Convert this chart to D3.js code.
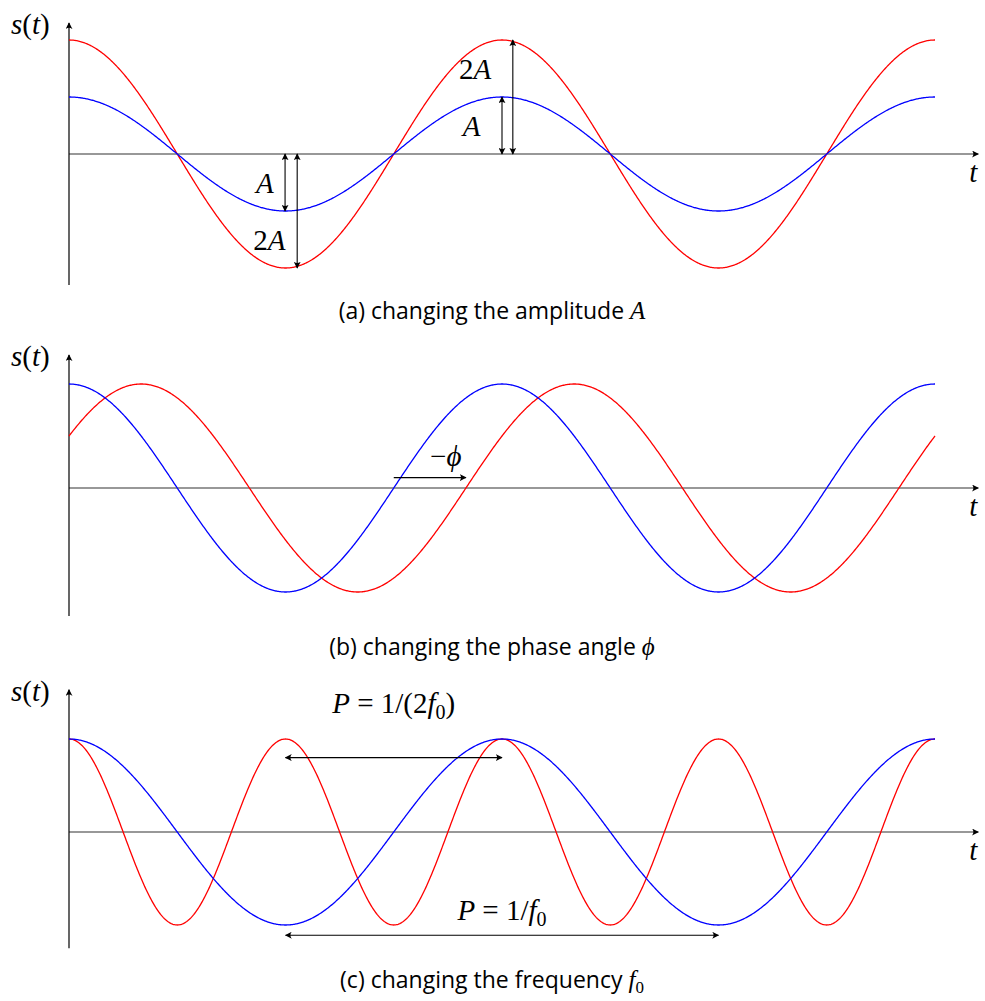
<!DOCTYPE html>
<html>
<head>
<meta charset="utf-8">
<script src="https://cdn.jsdelivr.net/npm/d3@7"></script>
<style>
  html, body { margin: 0; padding: 0; background: #fff; }
  svg { display: block; }
  .math { font-family: "Liberation Serif", "DejaVu Serif", serif; font-style: italic; fill: #000; }
  .num { font-style: normal; }
  .cap { font-family: "Open Sans", "DejaVu Sans", sans-serif; fill: #000; }
</style>
</head>
<body>
<svg id="chart" width="985" height="1001"></svg>
<script>
// Signal parameters: s(t) = A cos(2π f t + φ), t measured in periods of the base signal
const panels = ["a", "b", "c"];
const captions = ["changing the amplitude ", "changing the phase angle ", "changing the frequency "];
const captionSymbols = ["A", "ϕ", "f"];
const blueAmp = [1, 1, 1];
const redAmp = [2, 1, 1];
const bluePhase = [0, 0, 0];
const redPhase = [0, -Math.PI / 3, 0];
const blueFreq = [1, 1, 1];
const redFreq = [1, 1, 2];

// Layout per panel
const xLeft = 69, xRight = 935;
const zeroY = [154, 488, 832];
const ampPx = [57, 104, 93];
const yAxisTop = [2.3, 1.28, 1.53];
const yAxisBottom = [-2.3, -1.23, -1.25];
const captionY = [319, 655, 988];

const MATH = 29;

const svg = d3.select("#chart");

const defs = svg.append("defs");
defs.append("marker")
  .attr("id", "head")
  .attr("viewBox", "0 0 10 10")
  .attr("refX", 9).attr("refY", 5)
  .attr("markerWidth", 7).attr("markerHeight", 7)
  .attr("markerUnits", "userSpaceOnUse")
  .attr("orient", "auto-start-reverse")
  .append("path")
  .attr("d", "M0,0 Q4,5 0,10 L10,5 Z")
  .attr("fill", "#000");

const tSamples = d3.range(0, 2.0001, 0.002);

function arrow(g, x1, y1, x2, y2, both) {
  g.append("line")
    .attr("x1", x1).attr("y1", y1).attr("x2", x2).attr("y2", y2)
    .attr("stroke", "#000").attr("stroke-width", 1.1)
    .attr("marker-end", "url(#head)")
    .attr("marker-start", both ? "url(#head)" : null);
}

// write a math label from [text, upright?, dy] parts
function mathText(g, xPos, yPos, anchor, size, parts) {
  const t = g.append("text").attr("class", "math")
    .attr("x", xPos).attr("y", yPos)
    .attr("text-anchor", anchor).attr("font-size", size);
  parts.forEach(([s, upright, dy, fs]) => {
    const sp = t.append("tspan").text(s);
    if (upright) sp.attr("class", "num");
    if (dy) sp.attr("dy", dy);
    if (fs) sp.attr("font-size", fs);
  });
  return t;
}

panels.forEach((p, i) => {
  const g = svg.append("g");
  const x = d3.scaleLinear().domain([0, 2]).range([xLeft, xRight]);
  const y = d3.scaleLinear().domain([-1, 1]).range([zeroY[i] + ampPx[i], zeroY[i] - ampPx[i]]);

  // axes
  g.append("line")
    .attr("x1", x(0)).attr("x2", x(2.1))
    .attr("y1", y(0)).attr("y2", y(0))
    .attr("stroke", "#333").attr("stroke-width", 1.2)
    .attr("marker-end", "url(#head)");
  g.append("line")
    .attr("x1", x(0)).attr("x2", x(0))
    .attr("y1", y(yAxisBottom[i])).attr("y2", y(yAxisTop[i]))
    .attr("stroke", "#000").attr("stroke-width", 1.2)
    .attr("marker-end", "url(#head)");

  mathText(g, 11, y(yAxisTop[i]) + 11, "start", MATH,
    [["s"], ["(", true], ["t"], [")", true]]);
  mathText(g, x(2.1) - 9, y(0) + 28, "start", MATH, [["t"]]);

  const curve = (amp, freq, phase) => d3.line()
    .x(t => x(t))
    .y(t => y(amp * Math.cos(2 * Math.PI * freq * t + phase)))(tSamples);

  g.append("path").attr("d", curve(redAmp[i], redFreq[i], redPhase[i]))
    .attr("fill", "none").attr("stroke", "#ff0000").attr("stroke-width", 1.3);
  g.append("path").attr("d", curve(blueAmp[i], blueFreq[i], bluePhase[i]))
    .attr("fill", "none").attr("stroke", "#0000ff").attr("stroke-width", 1.3);

  // annotations
  if (p === "a") {
    arrow(g, x(0.499), y(0), x(0.499), y(-1), true);
    arrow(g, x(0.527), y(0), x(0.527), y(-2), true);
    arrow(g, x(1.0), y(0), x(1.0), y(1), true);
    arrow(g, x(1.025), y(0), x(1.025), y(2), true);
    mathText(g, x(0.473), y(-0.5) + 10, "end", MATH, [["A"]]);
    mathText(g, x(0.5), y(-1.5) + 10, "end", MATH, [["2", true], ["A"]]);
    mathText(g, x(0.975), y(1.5) + 10, "end", MATH, [["2", true], ["A"]]);
    mathText(g, x(0.95), y(0.5) + 10, "end", MATH, [["A"]]);
  }
  if (p === "b") {
    const phi = -redPhase[i] / (2 * Math.PI);
    arrow(g, x(0.75), y(0.1), x(0.75 + phi), y(0.1), false);
    mathText(g, x(0.87), y(0.3) + 9, "middle", MATH, [["−", true], ["ϕ"]]);
  }
  if (p === "c") {
    arrow(g, x(0.5), y(0.8), x(1.0), y(0.8), true);
    arrow(g, x(0.5), y(-1.11), x(1.5), y(-1.11), true);
    mathText(g, x(0.75), y(1.39) + 10, "middle", MATH,
      [["P"], [" = 1/(2", true], ["f"], ["0", true, 6, 20], [")", true, -6]]);
    mathText(g, x(1.0), y(-0.84) + 10, "middle", MATH,
      [["P"], [" = 1/", true], ["f"], ["0", true, 6, 20]]);
  }

  // caption
  const c = g.append("text").attr("class", "cap")
    .attr("x", 492).attr("y", captionY[i])
    .attr("text-anchor", "middle").attr("font-size", 23);
  c.append("tspan").text("(" + p + ") " + captions[i]);
  c.append("tspan").attr("class", "math").attr("font-size", 25).text(captionSymbols[i]);
  if (p === "c") {
    c.append("tspan").attr("class", "math num").attr("font-size", 17).attr("dy", 5).text("0");
  }
});
</script>
</body>
</html>
